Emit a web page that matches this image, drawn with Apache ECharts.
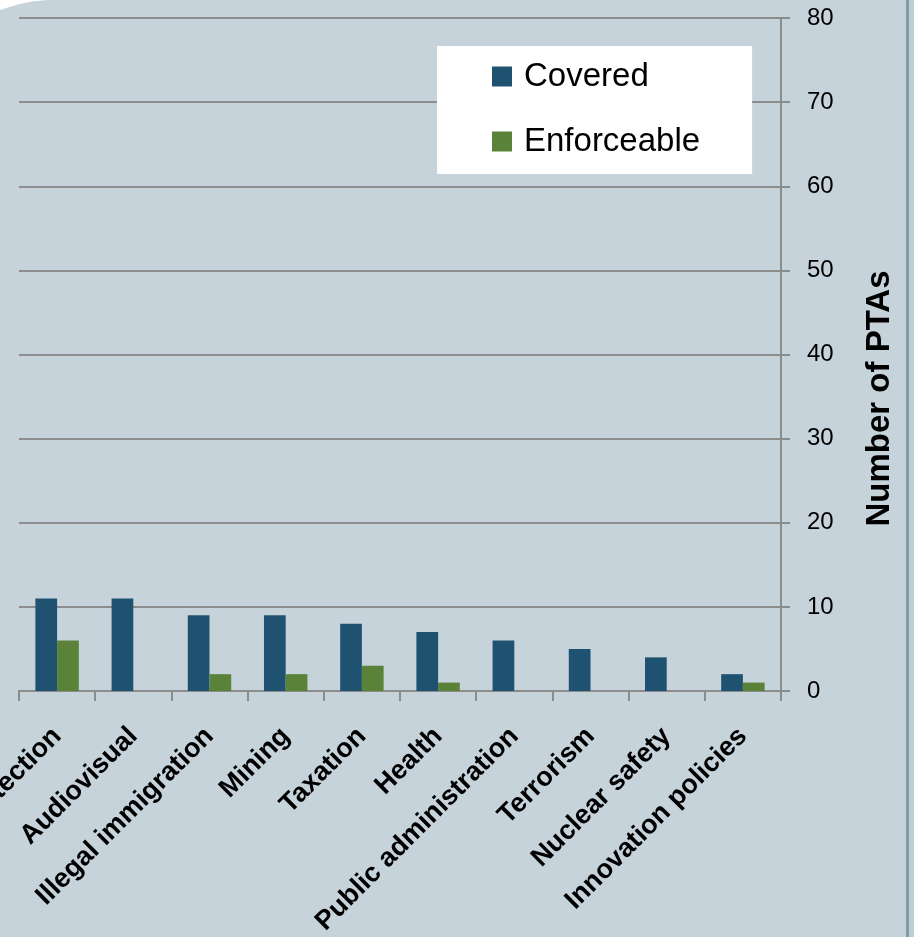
<!DOCTYPE html>
<html>
<head>
<meta charset="utf-8">
<script src="https://cdn.jsdelivr.net/npm/echarts@6/dist/echarts.min.js"></script>
<style>
html,body{margin:0;padding:0;background:#c6d3db;}
#c{width:914px;height:937px;}
</style>
</head>
<body>
<div id="c"></div>
<script>
const categories = ['Data protection','Audiovisual','Illegal immigration','Mining','Taxation','Health','Public administration','Terrorism','Nuclear safety','Innovation policies'];
const covered = [11, 11, 9, 9, 8, 7, 6, 5, 4, 2];
const enforceable = [6, 0, 2, 2, 3, 1, 0, 0, 0, 1];
const yTicks = [0, 10, 20, 30, 40, 50, 60, 70, 80];

const FONT = 'Liberation Sans';
const chart = echarts.init(document.getElementById('c'));
chart.setOption({
  backgroundColor: '#c6d3db',
  animation: false,
  textStyle: {fontFamily: FONT},
  graphic: [
    {type:'polygon', shape:{points:[[0,0],[47,0],[32,1.6],[20,4],[10,6.8],[0,10]]}, style:{fill:'#ffffff'}, z:100},
    {type:'rect', shape:{x:906, y:0, width:3, height:937}, style:{fill:'#7d9ea5'}, z:100},
    {type:'rect', shape:{x:909, y:0, width:5, height:937}, style:{fill:'#bccfd2'}, z:100}
  ],
  legend: {
    orient: 'vertical',
    left: 437, top: 46,
    backgroundColor: '#ffffff',
    padding: [14, 52, 16, 55],
    itemGap: 32,
    itemWidth: 20, itemHeight: 20,
    icon: 'rect',
    textStyle: {fontSize: 33, color: '#000', lineHeight: 32, fontFamily: FONT, padding:[0,0,0,7]},
    data: ['Covered', 'Enforceable']
  },
  grid: {left: 19, right: 133, top: 18, bottom: 246, containLabel: false, outerBoundsMode: 'none'},
  xAxis: {
    type: 'category',
    data: categories,
    boundaryGap: true,
    axisLine: {show: true, lineStyle: {color: '#8c8c8c', width: 2}},
    axisTick: {show: true, interval: 0, length: 10, lineStyle: {color: '#8c8c8c', width: 2}},
    axisLabel: {interval: 0, rotate: 45, fontSize: 27, fontWeight: 'bold', color: '#000', margin: 41, fontFamily: FONT},
    splitLine: {show: false}
  },
  yAxis: {
    type: 'value',
    position: 'right',
    min: 0, max: 80, interval: 10,
    name: 'Number of PTAs',
    nameLocation: 'middle',
    nameRotate: 90,
    nameGap: 82,
    nameTextStyle: {fontSize: 33, fontWeight: 'bold', color: '#000', fontFamily: FONT, padding: [0, 88, 0, 0]},
    axisLine: {show: true, lineStyle: {color: '#8c8c8c', width: 2}},
    axisTick: {show: true, length: 9, lineStyle: {color: '#8c8c8c', width: 2}},
    axisLabel: {fontSize: 24, color: '#000', margin: 26, fontFamily: FONT,
      formatter: v => (yTicks.indexOf(v) >= 0 ? String(v) : '')},
    splitLine: {show: true, lineStyle: {color: '#8c8c8c', width: 2}}
  },
  series: [
    {name: 'Covered', type: 'bar', data: covered, barGap: '0%', barCategoryGap: '43%',
      itemStyle: {color: '#1f5270'}},
    {name: 'Enforceable', type: 'bar', data: enforceable, barGap: '0%', barCategoryGap: '43%',
      itemStyle: {color: '#5a8239'}}
  ]
});
</script>
</body>
</html>
